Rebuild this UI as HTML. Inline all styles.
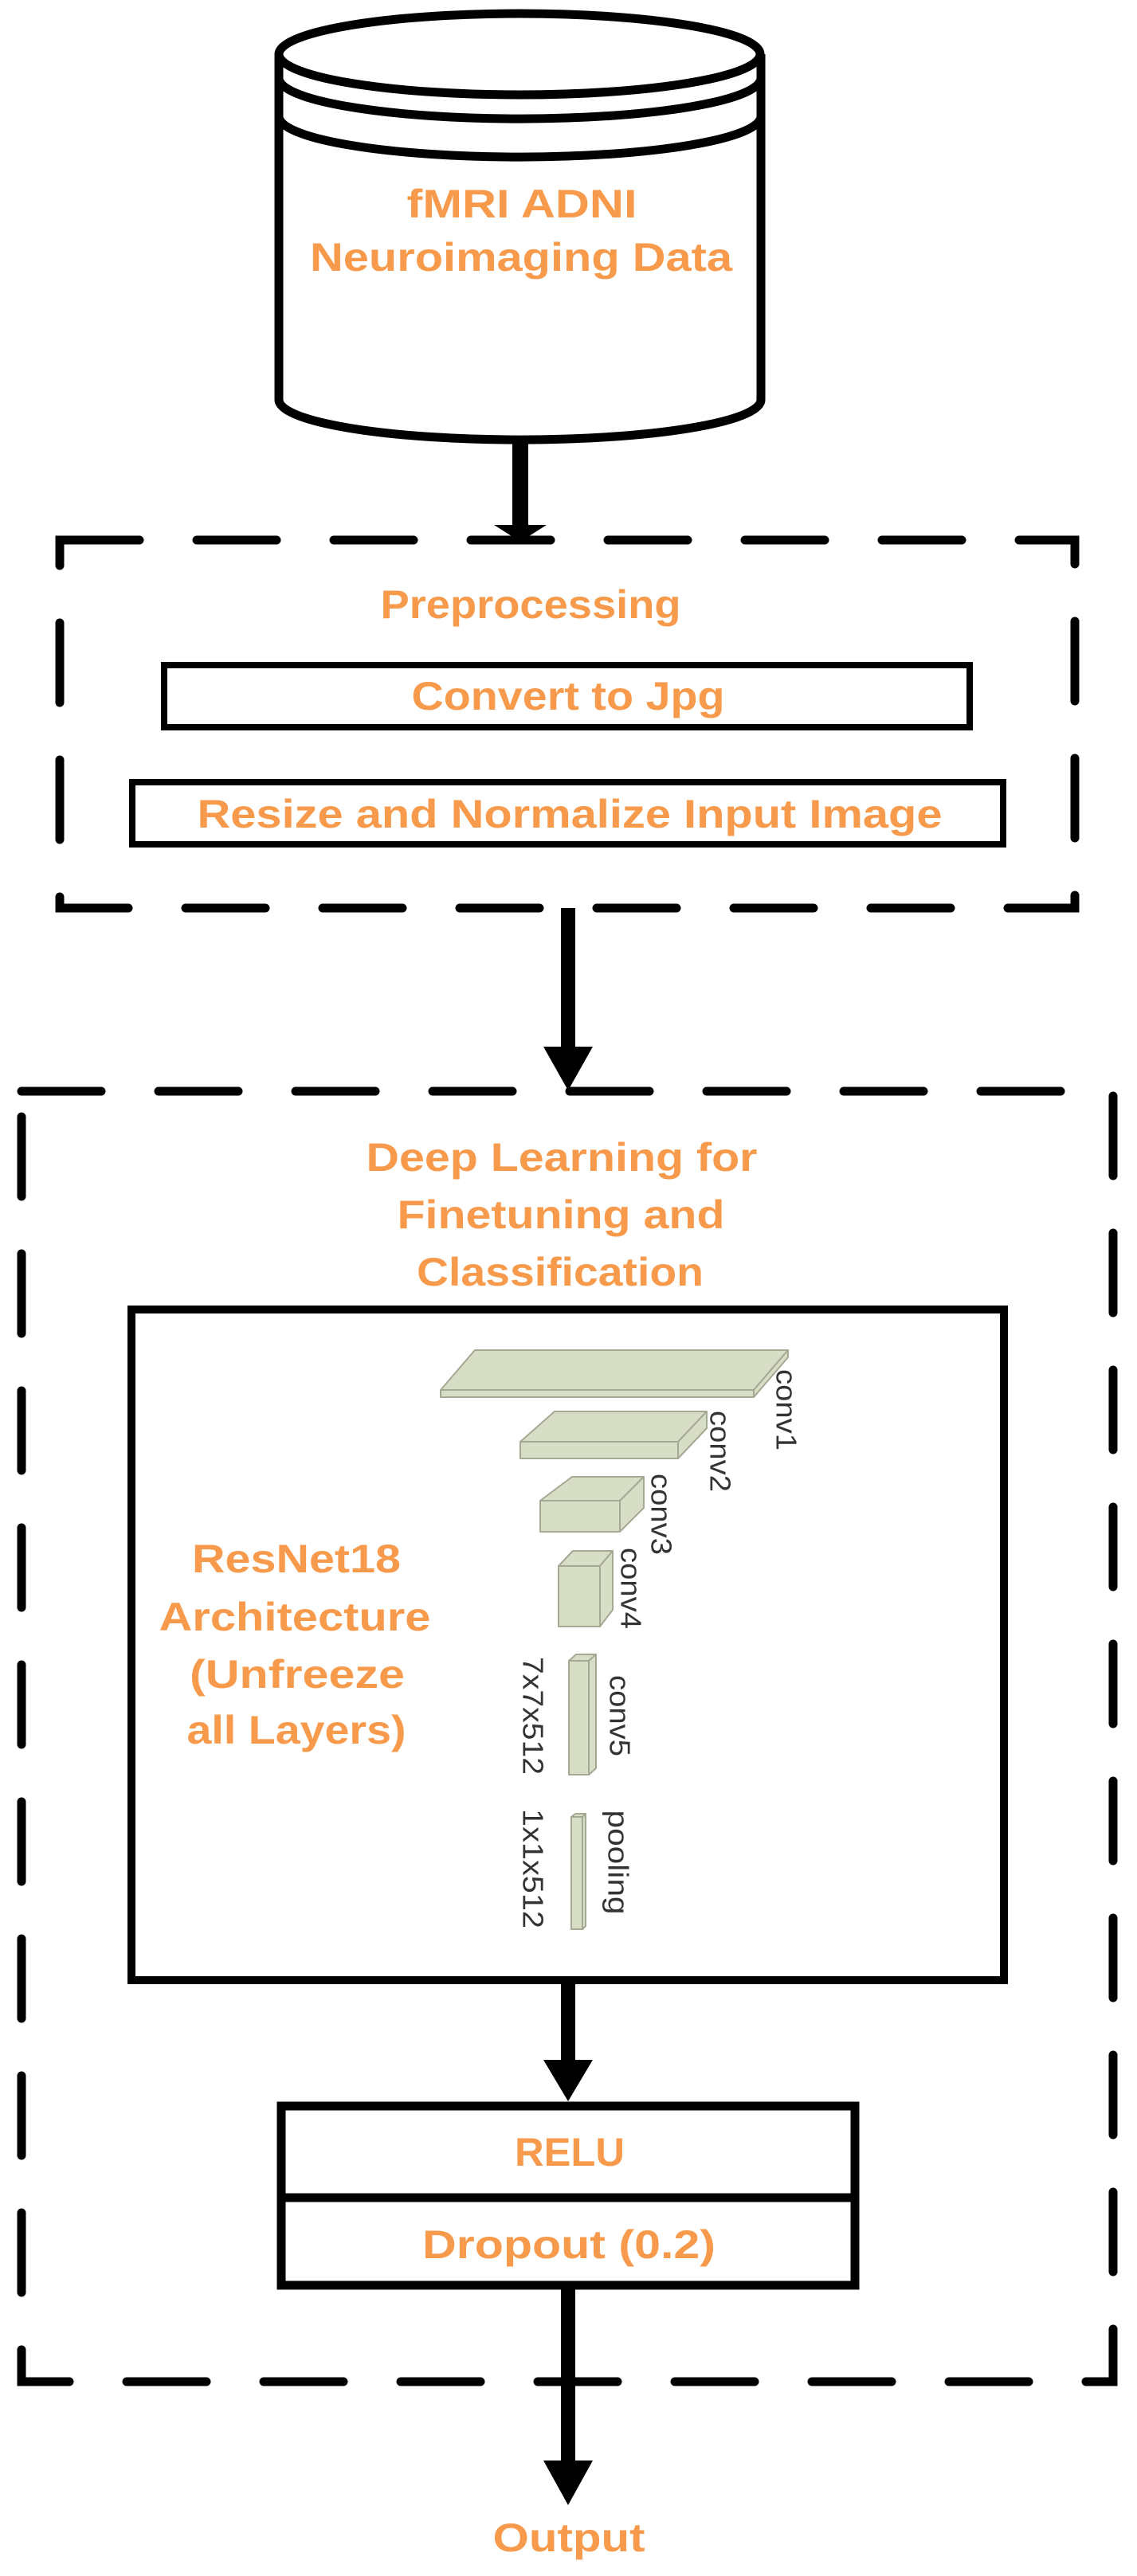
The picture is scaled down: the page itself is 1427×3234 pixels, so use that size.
<!DOCTYPE html>
<html><head><meta charset="utf-8"><style>
html,body{margin:0;padding:0;background:#fff;}
svg{display:block;}
.t{font-family:"Liberation Sans",Arial,sans-serif;font-weight:bold;font-size:50px;fill:#F79A4C;text-anchor:middle;}
.g{font-family:"Liberation Sans",Arial,sans-serif;font-size:36px;fill:#333;}
.blk{fill:#d8ddc5;stroke:#a3a993;stroke-width:2;stroke-linejoin:round;}
</style></head><body>
<svg width="1427" height="3234" viewBox="0 0 1427 3234" xmlns="http://www.w3.org/2000/svg">
<!-- Cylinder -->
<g fill="none" stroke="#000" stroke-width="11">
<path d="M350,68 L350,502 A302,50 0 0 0 955,502 L955,68" fill="#fff"/>
<ellipse cx="652" cy="68" rx="302" ry="51" fill="#fff"/>
<path d="M350,98 A302,51 0 0 0 955,98"/>
<path d="M350,146 A302,51 0 0 0 955,146"/>
</g>
<text class="t" x="655" y="273" textLength="289" lengthAdjust="spacingAndGlyphs">fMRI ADNI</text>
<text class="t" x="654" y="340" textLength="530" lengthAdjust="spacingAndGlyphs">Neuroimaging Data</text>
<!-- arrow cyl -> box1 -->
<rect x="643" y="550" width="20" height="115" fill="#000"/>
<polygon points="620,659 686,659 653,680" fill="#000"/>
<!-- Box1 dashed -->
<rect x="75" y="678" width="1274" height="462" fill="none" stroke="#000" stroke-width="11" stroke-linecap="round" stroke-dasharray="100 72"/>
<text class="t" x="666" y="776" textLength="377" lengthAdjust="spacingAndGlyphs">Preprocessing</text>
<rect x="206" y="835" width="1011" height="78" fill="none" stroke="#000" stroke-width="8"/>
<text class="t" x="713" y="891" textLength="393" lengthAdjust="spacingAndGlyphs">Convert to Jpg</text>
<rect x="166" y="982" width="1093" height="78" fill="none" stroke="#000" stroke-width="8"/>
<text class="t" x="715" y="1039" textLength="935" lengthAdjust="spacingAndGlyphs">Resize and Normalize Input Image</text>
<!-- arrow box1 -> box2 -->
<rect x="704" y="1140" width="18" height="180" fill="#000"/>
<polygon points="682,1314 744,1314 713,1369" fill="#000"/>
<!-- Box2 dashed -->
<rect x="27" y="1370" width="1370" height="1620" fill="none" stroke="#000" stroke-width="11" stroke-linecap="round" stroke-dasharray="100 72"/>
<text class="t" x="705" y="1470" textLength="491" lengthAdjust="spacingAndGlyphs">Deep Learning for</text>
<text class="t" x="704" y="1542" textLength="411" lengthAdjust="spacingAndGlyphs">Finetuning and</text>
<text class="t" x="703" y="1614" textLength="360" lengthAdjust="spacingAndGlyphs">Classification</text>
<!-- inner box -->
<rect x="165" y="1644" width="1095" height="842" fill="#fff" stroke="#000" stroke-width="10"/>
<text class="t" x="372" y="1974" textLength="262" lengthAdjust="spacingAndGlyphs">ResNet18</text>
<text class="t" x="370" y="2047" textLength="341" lengthAdjust="spacingAndGlyphs">Architecture</text>
<text class="t" x="373" y="2119" textLength="270" lengthAdjust="spacingAndGlyphs">(Unfreeze</text>
<text class="t" x="372" y="2189" textLength="275" lengthAdjust="spacingAndGlyphs">all Layers)</text>
<!-- conv blocks -->
<polygon class="blk" points="553,1745 596,1695 989,1695 946,1745"/>
<rect class="blk" x="553" y="1745" width="393" height="9"/>
<polygon class="blk" points="946,1745 989,1695 989,1704 946,1754"/>
<polygon class="blk" points="653,1810 696,1772 887,1772 851,1810"/>
<rect class="blk" x="653" y="1810" width="198" height="21"/>
<polygon class="blk" points="851,1810 887,1772 887,1793 851,1831"/>
<polygon class="blk" points="678,1884 718,1854 808,1854 778,1884"/>
<rect class="blk" x="678" y="1884" width="100" height="39"/>
<polygon class="blk" points="778,1884 808,1854 808,1893 778,1923"/>
<polygon class="blk" points="701,1966 719,1947 769,1947 753,1966"/>
<rect class="blk" x="701" y="1966" width="52" height="76"/>
<polygon class="blk" points="753,1966 769,1947 769,2021 753,2042"/>
<polygon class="blk" points="714,2085 723,2077 748,2077 739,2085"/>
<rect class="blk" x="714" y="2085" width="25" height="143"/>
<polygon class="blk" points="739,2085 748,2077 748,2220 739,2228"/>
<polygon class="blk" points="717,2281 722,2277 735,2277 731,2281"/>
<rect class="blk" x="717" y="2281" width="14" height="141"/>
<polygon class="blk" points="731,2281 735,2277 735,2418 731,2422"/>
<!-- rotated labels -->
<text class="g" transform="translate(987,1770) rotate(90)" text-anchor="middle" dominant-baseline="central" textLength="102" lengthAdjust="spacingAndGlyphs">conv1</text>
<text class="g" transform="translate(904,1822) rotate(90)" text-anchor="middle" dominant-baseline="central" textLength="102" lengthAdjust="spacingAndGlyphs">conv2</text>
<text class="g" transform="translate(830,1901) rotate(90)" text-anchor="middle" dominant-baseline="central" textLength="102" lengthAdjust="spacingAndGlyphs">conv3</text>
<text class="g" transform="translate(792,1994) rotate(90)" text-anchor="middle" dominant-baseline="central" textLength="102" lengthAdjust="spacingAndGlyphs">conv4</text>
<text class="g" transform="translate(778,2154) rotate(90)" text-anchor="middle" dominant-baseline="central" textLength="102" lengthAdjust="spacingAndGlyphs">conv5</text>
<text class="g" transform="translate(669,2154) rotate(90)" text-anchor="middle" dominant-baseline="central" textLength="148" lengthAdjust="spacingAndGlyphs">7x7x512</text>
<text class="g" transform="translate(776,2338) rotate(90)" text-anchor="middle" dominant-baseline="central" textLength="131" lengthAdjust="spacingAndGlyphs">pooling</text>
<text class="g" transform="translate(669,2346) rotate(90)" text-anchor="middle" dominant-baseline="central" textLength="150" lengthAdjust="spacingAndGlyphs">1x1x512</text>
<!-- arrow inner -> relu -->
<rect x="704" y="2489" width="18" height="100" fill="#000"/>
<polygon points="682,2586 744,2586 713,2638" fill="#000"/>
<!-- RELU / Dropout box -->
<rect x="353" y="2644" width="720" height="225" fill="#fff" stroke="#000" stroke-width="11"/>
<line x1="353" y1="2759" x2="1073" y2="2759" stroke="#000" stroke-width="11"/>
<text class="t" x="715" y="2719" textLength="138" lengthAdjust="spacingAndGlyphs">RELU</text>
<text class="t" x="714" y="2835" textLength="368" lengthAdjust="spacingAndGlyphs">Dropout (0.2)</text>
<!-- output arrow -->
<rect x="704" y="2869" width="18" height="225" fill="#000"/>
<polygon points="682,3089 744,3089 713,3145" fill="#000"/>
<text class="t" x="714" y="3203" textLength="191" lengthAdjust="spacingAndGlyphs">Output</text>
</svg>
</body></html>
